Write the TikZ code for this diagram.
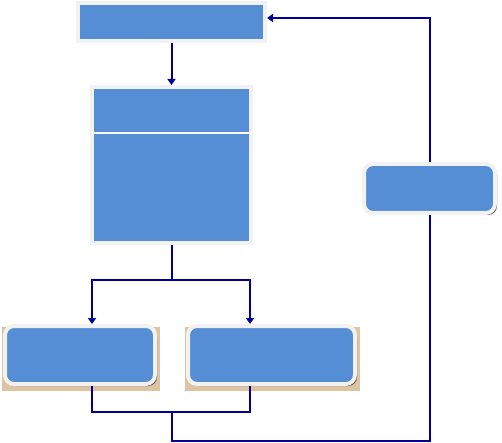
\documentclass[tikz,border=0pt]{standalone}
\usepackage{xcolor}
\usepackage{tikz}
\usetikzlibrary{arrows.meta, calc, shadows, backgrounds}
\definecolor{boxfill}{RGB}{85, 142, 213}
\definecolor{boxrim}{RGB}{242, 242, 242}
\definecolor{linkblue}{RGB}{0, 0, 153}
\definecolor{tanbg}{RGB}{221, 196, 163}

\begin{document}
\begin{tikzpicture}[
    x=1pt, y=-1pt,
    block/.style={rectangle, fill=boxfill, draw=boxrim, line width=4pt, inner sep=0pt, drop shadow={shadow xshift=2pt, shadow yshift=-2pt, fill=black, opacity=0.7}},
    roundblock/.style={block, rounded corners=9pt},
    link/.style={linkblue, line width=2pt},
    >={Triangle[length=6pt, width=8pt]}
  ]
  \useasboundingbox (0,0) rectangle (502,443);

  \node[block, minimum width=187pt, minimum height=38pt] (top) at (171.5, 22) {};
  \node[block, minimum width=159pt, minimum height=156pt] (mid) at (171.5, 165) {};
  \node[roundblock, minimum width=150pt, minimum height=58pt] (left) at (80, 355) {};
  \node[roundblock, minimum width=167pt, minimum height=58pt] (right) at (271.5, 355) {};
  \node[roundblock, minimum width=131pt, minimum height=49pt] (side) at (429.5, 188.5) {};

  % divider inside the tall box
  \draw[white, line width=1.2pt] ($([xshift=2pt]mid.north west)!0.3!([xshift=2pt]mid.south west)$) -- ($([xshift=-2pt]mid.north east)!0.3!([xshift=-2pt]mid.south east)$);

  \begin{scope}[on background layer]
    \foreach \b in {left, right} {
      \fill[tanbg] ([xshift=-1pt, yshift=-3pt]\b.north west) rectangle ([xshift=3pt, yshift=-5pt]\b.south east);
    }
  \end{scope}

  \coordinate (fork) at (171.5, 280);
  \coordinate (join) at (171.5, 412);
  \coordinate (floor) at (431, 441);

  \draw[link, ->] (top.south) -- (mid.north);
  \draw[link] (mid.south) -- (fork);
  \draw[link, ->] (fork) -| ([xshift=12pt]left.north);
  \draw[link, ->] (fork) -| ([xshift=-21.5pt]right.north);

  \draw[link] ([xshift=12pt]left.south) |- (join) -| ([xshift=-21.5pt]right.south);
  \draw[link] (join) -- (join |- floor) -| (side.south);
  \draw[link, ->] (side.north) |- ([yshift=4pt]top.east);

\end{tikzpicture}
\end{document}
